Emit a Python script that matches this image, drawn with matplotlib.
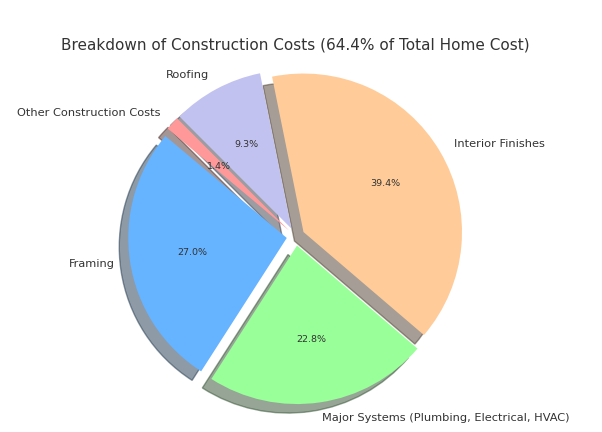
import matplotlib
matplotlib.use("Agg")
import matplotlib.pyplot as plt

labels = ["Framing", "Major Systems (Plumbing, Electrical, HVAC)", "Interior Finishes",
          "Roofing", "Other Construction Costs"]
shares = [27.0, 22.8, 39.4, 9.3, 1.4]
colors = ["#66b3ff", "#99ff99", "#ffcc99", "#c2c2f0", "#ff9999"]
explode = [0.057, 0.057, 0.057, 0.057, 0.057]
title = "Breakdown of Construction Costs (64.4% of Total Home Cost)"

W, H = 602, 432
fig = plt.figure(figsize=(W / 100, H / 100), dpi=100)
R = 158.5
cx, cy = 295.7, 432 - 236.6
half = 1.25 * R
ax = fig.add_axes([(cx - half) / W, (cy - half) / H, 2 * half / W, 2 * half / H])
wedges, texts, autotexts = ax.pie(shares, labels=labels, colors=colors, explode=explode,
                                  autopct="%1.1f%%",
                                  shadow={"ox": -0.041, "oy": -0.041},
                                  startangle=140,
                                  textprops={"color": "#333333", "fontsize": 8.2})
for t in autotexts:
    t.set_fontsize(6.8)
ax.set_xlim(-1.25, 1.25)
ax.set_ylim(-1.25, 1.25)
ax.set_aspect("equal")
fig.text(cx / W, 1 - 45 / H, title, ha="center", va="center", fontsize=11, color="#333333")
fig.savefig("out.png", dpi=100)
